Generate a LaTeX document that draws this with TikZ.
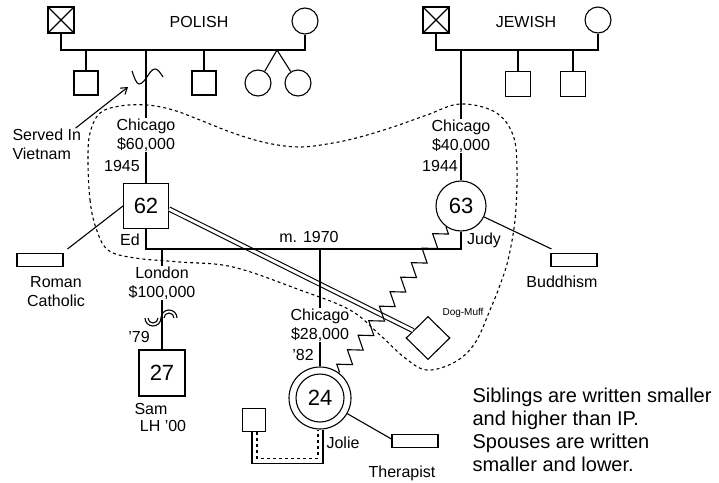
\documentclass[tikz,border=0pt]{standalone}
\usepackage{fontspec}
\setmainfont{Liberation Sans}
\usetikzlibrary{arrows.meta,shapes.geometric,decorations.pathmorphing}
\tikzset{
  male/.style={draw,rectangle,minimum size=#1,inner sep=0pt},
  female/.style={draw,circle,minimum size=#1,inner sep=0pt},
  lbl/.style={font=\fontsize{16}{19}\selectfont,align=center,inner sep=0pt},
  age/.style={font=\fontsize{22}{24}\selectfont},
  tag/.style={draw,minimum width=46pt,minimum height=13pt,inner sep=0pt},
}
\begin{document}
\begin{tikzpicture}[x=1pt,y=-1pt,line width=1.1pt]
\useasboundingbox (0,0) rectangle (719,482);
% Polish side
\node[male=26pt] (pgf) at (61,20) {};
\draw (pgf.north west)--(pgf.south east) (pgf.north east)--(pgf.south west);
\node[female=26pt] (pgm) at (305,21) {};
\node[lbl] (polish) at (199,22) {POLISH};
\coordinate (pmar) at (0,50);
\draw (pgf) -- (pgf |- pmar) -- (pgm |- pmar) -- (pgm);
\node[male=24pt] (ps1) at (86,83) {};
\node[male=24pt] (ps2) at (204,83) {};
\foreach \S in {ps1,ps2} {\draw (\S) -- (\S |- pmar);}
\coordinate (twin) at (277,50);
\node[female=26pt] (tw1) at (258,83) {};
\node[female=26pt] (tw2) at (298,83) {};
\draw (tw1) -- (twin) -- (tw2);
\node[lbl] (chiP) at (146,135) {Chicago\\\$60,000};
\draw (chiP |- pmar) -- (chiP);
\draw (132,71) sin (139,84) cos (147,77) sin (155,69) cos (163,77);
\node[lbl,align=left,anchor=west] (served) at (12,144) {Served In\\Vietnam};
\coordinate (mil) at (128,87);
\draw[-{Straight Barb[length=6pt,width=8pt]}] ([xshift=-6pt]served.north east) -- (mil);
\node[lbl] at (122,166) {1945};
\node[male=45pt,age] (ed) at (146,206) {62};
\draw (chiP) -- (ed);
\node[lbl] at (130,240) {Ed};
% Jewish side
\node[male=26pt] (jgf) at (436,20) {};
\draw (jgf.north west)--(jgf.south east) (jgf.north east)--(jgf.south west);
\node[female=26pt] (jgm) at (598,20) {};
\node[lbl] (jewish) at (526,22) {JEWISH};
\draw (jgf) -- (jgf |- pmar) -- (jgm |- pmar) -- (jgm);
\node[male=25pt] (js1) at (518,84) {};
\node[male=25pt] (js2) at (573,84) {};
\foreach \S in {js1,js2} {\draw (\S) -- (\S |- pmar);}
\node[lbl] (chiJ) at (461,136) {Chicago\\\$40,000};
\draw (chiJ |- pmar) -- (chiJ);
\node[lbl] at (440,166) {1944};
\node[female=50pt,age] (judy) at (461,206) {63};
\draw (chiJ) -- (judy);
\node[lbl] at (484,240) {Judy};
% marriage and children
\node[draw,diamond,minimum width=44pt,minimum height=43pt,inner sep=0pt] (dog) at (428,338) {};
\node[font=\fontsize{10}{12}\selectfont] at (463,313) {Dog-Muff};
\draw[double,double distance=3pt] ([yshift=-3pt]ed.east) -- (dog);
\coordinate (emar) at (0,249);
\draw (ed) -- (ed |- emar) -- (judy |- emar) -- (judy);
\node[lbl] at (309,237) {m. 1970};
\node[lbl] (lon) at (162,283) {London\\\$100,000};
\draw (lon |- emar) -- (lon);
\node[male=46pt,age] (sam) at (162,373) {27};
\draw (lon) -- (sam);
\draw (145,318) arc[start angle=180,end angle=360,radius=8pt];
\draw (148,318) arc[start angle=180,end angle=360,radius=5pt];
\draw (161,318) arc[start angle=180,end angle=0,radius=8pt];
\draw (164,318) arc[start angle=180,end angle=0,radius=5pt];
\node[lbl] at (139,337) {'79};
\node[lbl] at (151,409) {Sam};
\node[lbl] at (163,426) {LH '00};
\node[lbl] (chiJo) at (320,325) {Chicago\\\$28,000};
\draw (chiJo |- emar) -- (chiJo);
\node[lbl] at (303,355) {'82};
\node[female=62pt] (jolie) at (320,398) {};
\node[female=48pt,age] (jolieIn) at (jolie) {24};
\draw (chiJo) -- (jolie);
\node[lbl] at (343,443) {Jolie};
\draw[decorate,decoration={zigzag,segment length=18pt,amplitude=6.5pt}] (judy) -- (jolie);
\node[male=23pt] (bf) at (254,420) {};
\draw ([xshift=-2pt]bf.south) -- ++(0,31) -| ([xshift=3pt]jolie.south);
\draw[dashed] ([xshift=3pt]bf.south) -- ++(0,26) -| ([xshift=-2pt]jolie.south);
% religions and therapist
\node[tag] (rc) at (40,260) {};
\draw ([shift={(4,-4)}]rc.north east) -- (ed.west);
\node[lbl] at (56,292) {Roman\\Catholic};
\node[tag] (bud) at (574,260) {};
\draw (judy) -- ([shift={(1,-4)}]bud.north west);
\node[lbl] at (562,282) {Buddhism};
\node[tag] (ther) at (415,441) {};
\draw (jolie) -- ([yshift=2pt]ther.west);
\node[lbl] at (402,473) {Therapist};
\draw[dash pattern=on 3pt off 3pt] plot[smooth cycle,tension=0.6] coordinates {
 (88,160) (90,200) (96,228) (108,250) (135,258) (180,262) (233,267) (300,290)
 (350,310) (380,335) (405,358) (427,370) (455,362) (475,343) (490,310) (500,285)
 (508,260) (515,220) (517,170) (513,135) (495,112) (460,104) (427,115) (393,127)
 (360,137) (333,143) (300,147) (267,143) (233,133) (200,120) (173,110) (147,105)
 (120,106) (100,113) (90,133)};
\node[font=\fontsize{20}{23}\selectfont,align=left,anchor=west,inner sep=0pt] (note) at (472,430)
 {Siblings are written smaller\\and higher than IP.\\Spouses are written\\smaller and lower.};
\end{tikzpicture}
\end{document}
